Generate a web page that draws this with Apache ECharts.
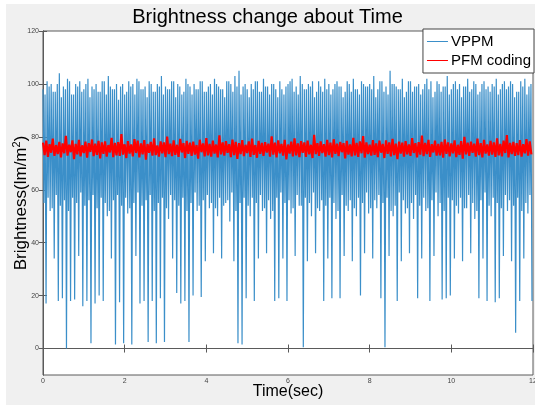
<!DOCTYPE html>
<html>
<head>
<meta charset="utf-8">
<script src="https://cdn.jsdelivr.net/npm/echarts@6/dist/echarts.min.js"></script>
<style>
  html, body { margin: 0; padding: 0; background: #fff; }
  #chart { width: 535px; height: 405px; }
</style>
</head>
<body>
<div id="chart"></div>
<script>
// sample spacing (sec)
var vppmStep = 0.025
var pfmStep = 0.04

// VPPM brightness, one entry per pulse (0.1 s):
// peak -> shallow dip -> second peak -> trough
var vppmPeak = [
  98,101,100,97,104,99,102,96,100,101,
  98,102,99,100,97,101,103,98,100,99,
  96,101,100,102,98,99,101,97,100,103,
  99,98,101,100,96,102,99,100,98,101,
  97,100,102,99,98,101,100,103,105,99,
  98,100,101,97,102,99,100,98,101,96,
  100,102,99,103,98,100,101,97,99,102,
  100,98,101,99,97,100,102,98,101,99,
  100,103,98,101,99,105,100,98,102,97,
  101,99,100,98,102,101,97,100,99,103,
  98,101,100,99,102,98,100,97,101,99,
  100,102,98,101,99,100,97,101,102,99
]
var vppmDip = [
  55,57,53,58,54,56,52,57,55,59,
  54,56,58,53,57,55,52,56,58,54,
  57,53,55,59,54,56,58,52,55,57,
  53,58,56,54,57,52,55,59,54,56,
  58,55,53,57,54,56,59,52,55,57,
  54,57,55,58,53,56,52,57,59,55,
  56,53,58,54,57,55,59,53,56,54,
  57,55,52,58,54,56,53,57,55,59,
  53,56,58,55,57,52,54,59,56,53,
  55,58,54,57,53,56,59,55,52,57,
  56,54,57,53,58,55,52,56,59,54,
  57,55,53,58,56,54,57,52,55,58
]
var vppmPeak2 = [
  96,99,97,100,95,98,101,96,99,97,
  100,95,98,97,101,96,99,98,94,100,
  97,99,96,101,98,95,100,97,99,96,
  98,101,95,99,97,100,96,98,101,97,
  99,96,100,98,95,101,97,99,96,100,
  95,98,101,97,99,96,100,95,98,99,
  101,97,96,100,98,99,95,101,97,98,
  96,100,99,95,101,97,98,96,100,99,
  98,95,101,97,96,100,99,98,95,101,
  97,99,96,100,98,95,101,97,99,96,
  100,98,95,99,97,101,96,100,98,97,
  99,96,100,98,101,95,97,99,96,100
]
var vppmTrough = [
  17,52,34,18,19,0,18,18.5,35,16,
  18,2,17,20,18,50,34,1.5,17.5,2,
  51,1.5,35,17,18,2.5,18,2,19,2.5,
  49,34,21,17,18,2.5,20,52,19.5,33,
  53,36,50,34,55,48,33,2,1.5,19,
  50,18,34,52,36,49,18,19,34,18,
  51,35,54,0.5,33,50,36,52,18,34,
  19,49,19,35,52,33,50,20,36,51,
  34,53,19,0.5,35,50,18,33,51,36,
  49,19,34,52,18,35,50,18.5,19,20,
  34,51,33,53,36,49,19,34,18,50,
  17.5,19,35,52,33,6,18,34,51,18
]

// PFM coding brightness
var pfm = [
  77.8,73.1,78.6,72.4,77.2,74.0,79.3,72.8,76.9,73.5,
  78.1,72.2,77.5,73.8,80.4,72.9,77.0,74.2,78.7,71.6,
  77.3,73.4,78.9,72.6,76.8,73.9,78.2,72.1,77.6,74.3,
  79.0,72.7,77.4,73.2,78.5,71.9,77.9,73.6,78.3,72.5,
  76.9,74.1,79.6,72.3,77.7,73.0,78.0,72.8,81.0,73.3,
  77.2,72.0,78.4,73.7,77.1,72.6,79.1,73.9,78.6,72.2,
  77.5,73.4,78.8,71.4,77.3,74.0,78.1,72.9,79.4,73.1,
  76.8,72.5,78.3,73.8,77.9,72.3,80.1,73.5,77.4,72.7,
  78.7,73.2,77.0,72.4,79.2,74.1,77.6,72.0,78.5,73.6,
  77.8,72.8,78.2,73.3,76.9,71.8,78.9,74.2,77.5,72.6,
  79.5,73.0,77.3,72.5,78.6,73.7,77.1,72.2,80.6,73.4,
  77.9,72.9,78.4,74.0,77.2,72.3,79.0,73.1,78.1,71.7,
  77.6,73.5,78.8,72.7,77.0,73.9,78.3,72.4,79.3,73.2,
  76.9,72.1,78.5,73.6,77.7,72.8,78.0,74.1,77.4,72.5,
  80.2,73.3,77.8,72.2,78.7,73.8,77.3,72.9,78.9,71.5,
  77.1,73.7,78.2,72.6,79.4,73.0,77.5,72.3,78.4,74.0,
  77.9,72.4,78.6,73.4,77.0,72.0,80.8,73.5,77.6,72.8,
  78.3,73.9,77.2,72.5,78.9,73.1,77.8,72.2,79.1,73.6,
  77.4,72.7,78.1,74.2,77.6,71.9,78.5,73.3,77.1,72.6,
  79.6,73.0,77.7,72.4,78.3,73.8,80.3,72.1,77.9,73.5,
  77.0,72.9,78.8,73.2,77.5,72.3,78.6,74.0,77.3,72.0,
  78.7,73.6,77.9,72.6,79.2,73.1,77.4,71.6,78.2,73.7,
  77.8,72.5,78.4,73.4,77.1,72.8,79.5,73.9,77.6,72.2,
  78.0,73.3,80.5,72.7,77.7,73.5,78.9,72.4,77.2,74.1,
  78.6,72.9,77.3,73.0,78.1,72.1,79.0,73.6,77.9,72.6,
  77.5,73.8,78.7,72.3,77.0,73.2,78.4,71.8,80.0,73.4,
  77.8,72.8,78.2,74.0,77.4,72.5,79.3,73.1,77.6,72.2,
  78.9,73.7,77.1,72.9,78.5,73.3,77.9,72.4,79.4,73.0,
  77.3,72.6,78.6,73.9,80.7,72.2,77.7,73.5,78.1,72.8,
  77.6,73.1,78.8,72.5,77.2,73.8,79.1,72.9,78.3,73.4
]

var yTicks = [0, 20, 40, 60, 80, 100, 120]
var seriesNames = ['VPPM', 'PFM coding']
var seriesColors = ['#3b8fc9', '#ff0000']

var font = 'Liberation Sans, Arial, Helvetica, sans-serif'
var axisColor = '#5a5a5a'

var vppmData = []
vppmPeak.forEach(function (p, k) {
    var vals = [p, vppmDip[k], vppmPeak2[k], vppmTrough[k]]
    vals.forEach(function (v, j) {
        var i = k * 4 + j
        vppmData.push([i * vppmStep, v])
    })
})
var pfmData = pfm.map(function (v, i) { return [i * pfmStep, v] })

var chart = echarts.init(document.getElementById('chart'), null, { renderer: 'canvas' })

var tickStyle = { inside: true, length: 4, lineStyle: { color: axisColor, width: 1 } }

chart.setOption({
    animation: false,
    backgroundColor: '#f0f0f0',
    textStyle: { fontFamily: font },
    title: {
        text: 'Brightness change about Time',
        left: 'center',
        top: 2,
        textStyle: { fontSize: 20, fontWeight: 'normal', color: '#000', fontFamily: font }
    },
    graphic: [
        { type: 'rect', shape: { x: 0, y: 0, width: 6, height: 405 }, style: { fill: '#fff' }, silent: true },
        { type: 'rect', shape: { x: 0, y: 0, width: 535, height: 4 }, style: { fill: '#fff' }, silent: true }
    ],
    legend: {
        data: seriesNames.map(function (n, i) {
            return { name: n, itemStyle: { color: seriesColors[i], borderWidth: 0 } }
        }),
        orient: 'vertical',
        right: 1,
        top: 29,
        icon: 'rect',
        itemWidth: 21,
        itemHeight: 1,
        itemGap: 4,
        padding: [5, 3, 5, 4],
        backgroundColor: '#fff',
        borderColor: '#444',
        borderWidth: 1,
        borderRadius: 0,
        itemStyle: { borderWidth: 0 },
        textStyle: { fontSize: 15, color: '#000', fontFamily: font, padding: [0, 0, 0, -2] }
    },
    grid: {
        left: 43,
        right: 2,
        top: 31,
        bottom: 30,
        containLabel: false,
        outerBoundsMode: 'none',
        show: true,
        backgroundColor: '#fff',
        borderColor: axisColor,
        borderWidth: 1
    },
    xAxis: [{
        type: 'value',
        min: 0,
        max: 12,
        interval: 2,
        name: 'Time(sec)',
        nameLocation: 'middle',
        nameGap: 9,
        nameMoveOverlap: false,
        nameTextStyle: { fontSize: 16, color: '#000', fontFamily: font },
        axisLine: { lineStyle: { color: axisColor } },
        axisTick: tickStyle,
        axisLabel: { fontSize: 7, color: '#444', margin: 3 },
        splitLine: { show: false }
    }, {
        type: 'value',
        position: 'top',
        min: 0,
        max: 12,
        interval: 2,
        axisLine: { lineStyle: { color: axisColor } },
        axisTick: tickStyle,
        axisLabel: { show: false },
        splitLine: { show: false }
    }],
    yAxis: [{
        type: 'value',
        min: -10,
        max: 120,
        name: '{a|Brightness(lm/m}{s|2}{a|)}',
        nameLocation: 'middle',
        nameGap: 12,
        nameRotate: 90,
        nameMoveOverlap: false,
        nameTextStyle: {
            rich: {
                a: { fontSize: 17, color: '#000', fontFamily: font },
                s: { fontSize: 11, color: '#000', fontFamily: font, verticalAlign: 'top', padding: [0, 0, 9, 0] }
            }
        },
        axisLine: { lineStyle: { color: axisColor } },
        axisTick: Object.assign({ customValues: yTicks }, tickStyle),
        axisLabel: { customValues: yTicks, fontSize: 7, color: '#444', margin: 4 },
        splitLine: { show: false }
    }, {
        type: 'value',
        position: 'right',
        min: -10,
        max: 120,
        axisLine: { lineStyle: { color: axisColor } },
        axisTick: Object.assign({ customValues: yTicks }, tickStyle),
        axisLabel: { show: false },
        splitLine: { show: false }
    }],
    series: [{
        name: seriesNames[0],
        type: 'line',
        data: vppmData,
        showSymbol: false,
        symbol: 'none',
        z: 2,
        itemStyle: { color: seriesColors[0] },
        lineStyle: { width: 1.2, color: seriesColors[0] }
    }, {
        name: seriesNames[1],
        type: 'line',
        data: pfmData,
        showSymbol: false,
        symbol: 'none',
        z: 3,
        itemStyle: { color: seriesColors[1] },
        lineStyle: { width: 2.2, color: seriesColors[1] }
    }]
})
</script>
</body>
</html>
